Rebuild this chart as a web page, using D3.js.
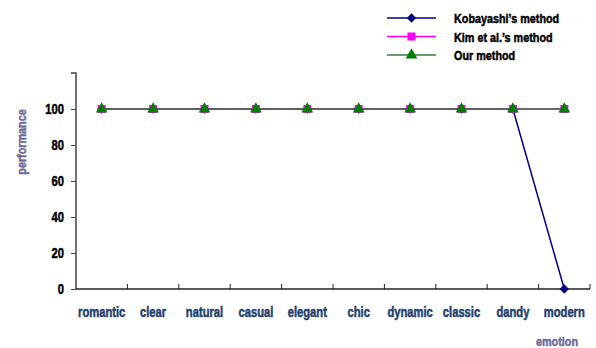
<!DOCTYPE html>
<html>
<head>
<meta charset="utf-8">
<script src="https://cdn.jsdelivr.net/npm/d3@7/dist/d3.min.js"></script>
<style>
  html, body { margin: 0; padding: 0; background: #fff; }
  svg text { font-family: "Liberation Sans", Arial, sans-serif; font-weight: bold; stroke-width: 0.5px; }
</style>
</head>
<body>
<svg id="chart" width="596" height="348"></svg>
<script>
// Emotion categories along the x axis
const categories = ["romantic", "clear", "natural", "casual", "elegant", "chic", "dynamic", "classic", "dandy", "modern"];
// Performance per method
const kobayashi = [100, 100, 100, 100, 100, 100, 100, 100, 100, 0];
const kim = [100, 100, 100, 100, 100, 100, 100, 100, 100, 100];
const ours = [100, 100, 100, 100, 100, 100, 100, 100, 100, 100];
const yTicks = [0, 20, 40, 60, 80, 100];
const seriesNames = ["Kobayashi\u2019s method", "Kim et al.\u2019s method", "Our method"];

const svg = d3.select("#chart");
const plotLeft = 76, plotRight = 590, plotTop = 73, plotBottom = 289;
const narrow = 0.8; // condensed look for the bold labels

const x = d3.scaleBand().domain(categories).range([plotLeft, plotRight]);
const y = d3.scaleLinear().domain([0, 120]).range([plotBottom, plotTop]);

const series = [
  { name: seriesNames[0], values: kobayashi, line: "#000080", fill: "#000080", symbol: d3.symbolDiamond2, size: 55 },
  { name: seriesNames[1], values: kim, line: "#ff00ff", fill: "#ff00ff", symbol: d3.symbolSquare, size: 64 },
  { name: seriesNames[2], values: ours, line: "#3a7a3a", fill: "#008000", symbol: d3.symbolTriangle, size: 60 }
];

// Y axis
const yAxis = d3.axisLeft(y).tickValues(yTicks).tickSize(5).tickFormat(() => "");
const gy = svg.append("g").attr("transform", `translate(${plotLeft},0)`).call(yAxis);
gy.select(".domain").attr("stroke", "#444").attr("stroke-width", 1.5).attr("d", `M-5,${plotTop}H0V${plotBottom}`);
gy.selectAll(".tick line").attr("stroke", "#444");
svg.append("g").selectAll("text").data(yTicks).enter().append("text")
  .attr("transform", d => `translate(${plotLeft - 12},${y(d) + 5}) scale(${narrow},1)`)
  .attr("text-anchor", "end")
  .attr("fill", "#000").attr("stroke", "#000")
  .attr("font-size", 14)
  .text(d => d);

// X axis with ticks between categories, pointing up
const gx = svg.append("g").attr("transform", `translate(0,${plotBottom})`);
gx.append("line").attr("x1", plotLeft).attr("x2", plotRight).attr("y1", 0).attr("y2", 0)
  .attr("stroke", "#222").attr("stroke-width", 1.3);
gx.selectAll("line.tk").data(categories).enter().append("line").attr("class", "tk")
  .attr("x1", d => x(d) + x.bandwidth()).attr("x2", d => x(d) + x.bandwidth())
  .attr("y1", 0).attr("y2", -5).attr("stroke", "#222");
gx.selectAll("text").data(categories).enter().append("text")
  .attr("transform", d => `translate(${x(d) + x.bandwidth() / 2},28) scale(${narrow},1)`)
  .attr("text-anchor", "middle")
  .attr("fill", "#1f3f6f").attr("stroke", "#1f3f6f")
  .attr("font-size", 14)
  .text(d => d);

// Axis titles
svg.append("text")
  .attr("transform", `translate(26,142) rotate(-90) scale(${narrow},1)`)
  .attr("text-anchor", "middle")
  .attr("fill", "#6b6b9b").attr("stroke", "#6b6b9b")
  .attr("font-size", 13.5)
  .text("performance");
svg.append("text")
  .attr("transform", `translate(557,346) scale(${narrow},1)`)
  .attr("text-anchor", "middle")
  .attr("fill", "#6b6b9b").attr("stroke", "#6b6b9b")
  .attr("font-size", 13.5)
  .text("emotion");

// Lines and markers, drawn in order so "Our method" is on top
const lineGen = d3.line().x((d, i) => x(categories[i]) + x.bandwidth() / 2).y(d => y(d));
series.forEach(s => {
  svg.append("path").datum(s.values)
    .attr("fill", "none").attr("stroke", s.line).attr("stroke-width", 1.5)
    .attr("d", lineGen);
});
series.forEach(s => {
  svg.append("g").selectAll("path").data(s.values).enter().append("path")
    .attr("transform", (d, i) => `translate(${x(categories[i]) + x.bandwidth() / 2},${y(d)})`)
    .attr("d", d3.symbol().type(s.symbol).size(s.size))
    .attr("fill", s.fill);
});

// Legend
const legend = svg.append("g");
series.forEach((s, i) => {
  const ly = 18 + i * 18.5;
  legend.append("line").attr("x1", 387).attr("x2", 436).attr("y1", ly).attr("y2", ly)
    .attr("stroke", s.line).attr("stroke-width", 1.5);
  legend.append("path").attr("transform", `translate(411.5,${ly})`)
    .attr("d", d3.symbol().type(s.symbol).size(s.size)).attr("fill", s.fill);
  legend.append("text").attr("transform", `translate(454,${ly + 5}) scale(${narrow},1)`)
    .attr("fill", "#000").attr("stroke", "#000")
    .attr("font-size", 13.5).text(s.name);
});
</script>
</body>
</html>
